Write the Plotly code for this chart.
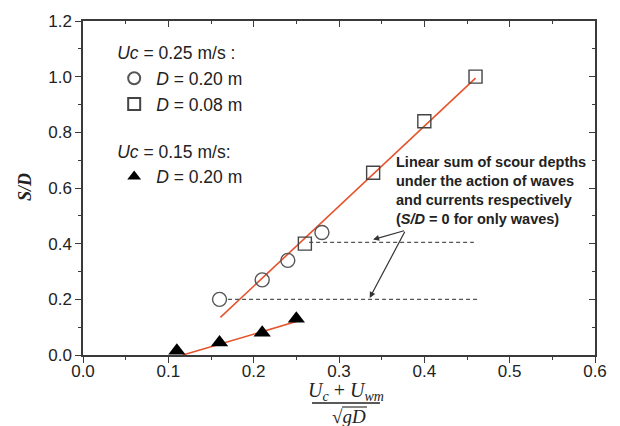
import plotly.graph_objects as go

# ---- data ----
circ_x = [0.16, 0.21, 0.24, 0.28]
circ_y = [0.20, 0.27, 0.34, 0.44]
sq_x = [0.26, 0.34, 0.40, 0.46]
sq_y = [0.40, 0.655, 0.84, 1.00]
tri_x = [0.11, 0.16, 0.21, 0.25]
tri_y = [0.015, 0.045, 0.08, 0.13]
fit_up_x = [0.161, 0.46]
fit_up_y = [0.135, 0.995]
fit_lo_x = [0.117, 0.25]
fit_lo_y = [0.0, 0.12]
dash_up_x = [0.265, 0.458]
dash_up_y = [0.405, 0.405]
dash_lo_x = [0.17, 0.465]
dash_lo_y = [0.20, 0.20]
x_ticks = [0.0, 0.1, 0.2, 0.3, 0.4, 0.5, 0.6]
y_ticks = [0.0, 0.2, 0.4, 0.6, 0.8, 1.0, 1.2]

RED = "#E5532B"
INK = "#3a3a3a"
SANS = "Liberation Sans, Arial, sans-serif"
SERIF = "Liberation Serif, Times New Roman, serif"

fig = go.Figure()

# fit lines and dashed reference lines
fig.add_trace(go.Scatter(x=fit_up_x, y=fit_up_y, mode="lines",
                         line=dict(color=RED, width=1.6), showlegend=False))
fig.add_trace(go.Scatter(x=fit_lo_x, y=fit_lo_y, mode="lines",
                         line=dict(color=RED, width=1.6), showlegend=False))
fig.add_trace(go.Scatter(x=dash_up_x, y=dash_up_y, mode="lines",
                         line=dict(color="#555", width=1.2, dash="4px,3px"), showlegend=False))
fig.add_trace(go.Scatter(x=dash_lo_x, y=dash_lo_y, mode="lines",
                         line=dict(color="#555", width=1.2, dash="4px,3px"), showlegend=False))

# data markers
fig.add_trace(go.Scatter(
    x=circ_x, y=circ_y, mode="markers", name="<i>D</i> = 0.20 m",
    legendgroup="a", legendgrouptitle=dict(text="<i>Uc</i> = 0.25 m/s :",
                                           font=dict(family=SANS, size=17.5, color="#222")),
    marker=dict(symbol="circle-open", size=14, color="#555", line=dict(width=1.4))))
fig.add_trace(go.Scatter(
    x=sq_x, y=sq_y, mode="markers", name="<i>D</i> = 0.08 m", legendgroup="a",
    marker=dict(symbol="square-open", size=13, color="#444", line=dict(width=1.4))))
fig.add_trace(go.Scatter(
    x=tri_x, y=tri_y, mode="markers", name="<i>D</i> = 0.20 m",
    legendgroup="b", legendgrouptitle=dict(text="<i>Uc</i> = 0.15 m/s:",
                                           font=dict(family=SANS, size=17.5, color="#222")),
    marker=dict(symbol="triangle-up", size=15, color="#000")))

# invisible trace to activate overlay axes
fig.add_trace(go.Scatter(x=[None], y=[None], xaxis="x2", yaxis="y2", showlegend=False))

axis_common = dict(showline=True, linecolor=INK, linewidth=1.5, showgrid=False,
                   zeroline=False, tickcolor=INK, tickwidth=1.3)

fig.update_layout(
    width=620, height=426,
    margin=dict(l=83, r=25, t=21, b=71),
    plot_bgcolor="white", paper_bgcolor="white",
    font=dict(family=SANS, size=17, color="#222"),
    xaxis=dict(range=[0, 0.6], tickvals=x_ticks, ticktext=[f"{v:.1f}" for v in x_ticks],
               ticks="outside", ticklen=6, ticklabelstandoff=-6,
               minor=dict(dtick=0.05, ticks="outside", ticklen=3, tickcolor=INK),
               tickfont=dict(size=17), **axis_common),
    yaxis=dict(range=[0, 1.2], tickvals=y_ticks, ticktext=[f"{v:.1f}" for v in y_ticks],
               ticks="outside", ticklen=6,
               minor=dict(dtick=0.1, ticks="outside", ticklen=3, tickcolor=INK),
               tickfont=dict(size=17), **axis_common),
    xaxis2=dict(range=[0, 0.6], overlaying="x", side="top", tickvals=x_ticks,
                showticklabels=False, ticks="inside", ticklen=6,
                minor=dict(dtick=0.05, ticks="inside", ticklen=3, tickcolor=INK),
                **axis_common),
    yaxis2=dict(range=[0, 1.2], overlaying="y", side="right", tickvals=y_ticks,
                showticklabels=False, ticks="inside", ticklen=6,
                minor=dict(dtick=0.1, ticks="inside", ticklen=3, tickcolor=INK),
                **axis_common),
    legend=dict(x=0.057, y=0.959, xanchor="left", yanchor="top",
                bgcolor="rgba(0,0,0,0)", font=dict(family=SANS, size=17.5, color="#222"),
                tracegroupgap=21, itemsizing="constant", itemwidth=34),
    showlegend=True,
)

# arrows
for hx, hy in [(0.34, 0.415), (0.336, 0.205)]:
    fig.add_annotation(x=hx, y=hy, ax=0.378, ay=0.448, axref="x", ayref="y",
                       xref="x", yref="y", text="", showarrow=True,
                       arrowhead=2, arrowsize=1.0, arrowwidth=1.2, arrowcolor="#333")

# explanatory text
fig.add_annotation(x=0.364, y=0.59, xref="x", yref="y", xanchor="left", yanchor="middle",
                   align="left", showarrow=False,
                   text="<b>Linear sum of scour depths<br>under the action of waves<br>"
                        "and currents respectively<br>(<i>S/D</i> = 0 for only waves)</b>",
                   font=dict(family=SANS, size=14.5, color="#222"))

px = lambda v: (v - 83) / 512
py = lambda v: (355 - v) / 334

# y-axis title
fig.add_annotation(x=px(25), y=py(187), xref="paper", yref="paper", showarrow=False,
                   xanchor="center", yanchor="middle",
                   text="<b><i>S/D</i></b>", textangle=-90,
                   font=dict(family=SERIF, size=18, color="#222"))

# x-axis title as a fraction
fig.add_annotation(x=px(346), y=py(391), xref="paper", yref="paper", showarrow=False,
                   xanchor="center", yanchor="middle",
                   text="<i>U</i><sub><i>c</i></sub> + <i>U</i><sub><i>wm</i></sub>",
                   font=dict(family=SERIF, size=20, color="#222"))
fig.add_annotation(x=px(349), y=py(416), xref="paper", yref="paper", showarrow=False,
                   xanchor="center", yanchor="middle",
                   text="√<i>gD</i>",
                   font=dict(family=SERIF, size=19, color="#222"))
fig.add_shape(type="line", xref="paper", yref="paper", x0=px(312), x1=px(380),
              y0=py(403), y1=py(403), line=dict(color="#222", width=1.3))
fig.add_shape(type="line", xref="paper", yref="paper", x0=px(342), x1=px(367),
              y0=py(407), y1=py(407), line=dict(color="#222", width=1.1))

fig.write_html("out.html", config={"displayModeBar": False},
               post_script="document.body.style.margin='0';")
